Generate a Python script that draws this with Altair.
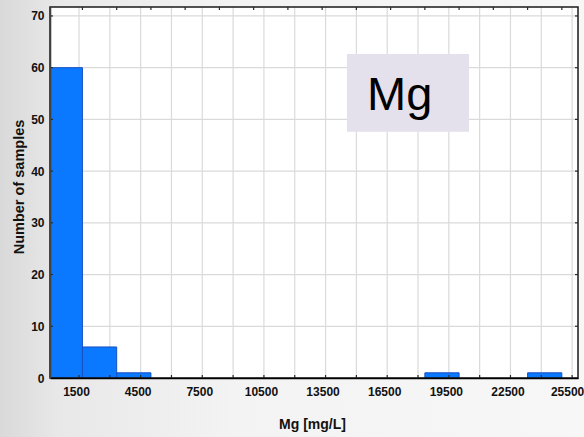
import altair as alt
import pandas as pd

# Histogram of Mg concentrations: bin width 5000/3 mg/L, 15 bins from 0 to 25000
bin_width = 5000 / 3
bin_counts = [60, 6, 1, 0, 0, 0, 0, 0, 0, 0, 0, 1, 0, 0, 1]

# Axis ticks / grid
x_grid = [1500, 3000, 4500, 6000, 7500, 9000, 10500, 12000, 13500,
          15000, 16500, 18000, 19500, 21000, 22500, 24000, 25500]
x_labels = [1500, 4500, 7500, 10500, 13500, 16500, 19500, 22500, 25500]
y_grid = [10, 20, 30, 40, 50, 60, 70]
y_labels = [0, 10, 20, 30, 40, 50, 60, 70]

W, H = 528, 371

bins = pd.DataFrame({
    "lo": [i * bin_width for i in range(len(bin_counts))],
    "hi": [(i + 1) * bin_width for i in range(len(bin_counts))],
    "count": bin_counts,
})
bins = bins[bins["count"] > 0]
edges = pd.DataFrame({"v": [i * bin_width for i in range(1, len(bin_counts) + 1)]})
xg = pd.DataFrame({"v": x_grid})
yg = pd.DataFrame({"v": y_grid})
one = pd.DataFrame({"k": [0]})

xscale = alt.Scale(domain=[88, 25787], nice=False, zero=False)
yscale = alt.Scale(domain=[0, 71.73], nice=False, zero=True)

label_font = "Liberation Sans"
title_font = "Liberation Sans"

xaxis = alt.Axis(
    values=x_labels, format="d", title="Mg [mg/L]", grid=False, ticks=False,
    labelOffset={"condition": {"test": "datum.value >= 25500", "value": -5}, "value": -3},
    labelPadding=8, labelFlush=False, zindex=1,
    domainColor="#000000", domainWidth=1.5,
    titleX=262, titleY=50, titleBaseline="alphabetic", titleAlign="center")
yaxis = alt.Axis(
    values=y_labels, format="d", title="Number of samples", grid=False, ticks=False,
    labelPadding=6, labelBaseline="middle", zindex=1,
    domainColor="#404040", domainWidth=1.6,
    titleAngle=270, titleX=-27, titleY=179.5, titleAlign="center",
    titleBaseline="alphabetic", titleFontSize=14.5)

# page background with a soft horizontal shade
bg = alt.Chart(one).mark_rect(
    color=alt.LinearGradient(
        gradient="linear", x1=0, x2=1, y1=0, y2=0,
        stops=[alt.GradientStop(offset=0, color="#d9d9d9"),
               alt.GradientStop(offset=0.1, color="#e8e8e8"),
               alt.GradientStop(offset=0.4, color="#f3f3f3"),
               alt.GradientStop(offset=1, color="#f7f7f7")]),
).encode(x=alt.value(-50), x2=alt.value(534), y=alt.value(-7), y2=alt.value(430))

plot_bg = alt.Chart(one).mark_rect(color="white").encode(
    x=alt.value(0), x2=alt.value(W), y=alt.value(0), y2=alt.value(H))

grid_x = alt.Chart(xg).mark_rule(color="#dadada", strokeWidth=1.2).encode(
    x=alt.X("v:Q", scale=xscale, axis=xaxis), y=alt.value(0), y2=alt.value(H))
grid_y = alt.Chart(yg).mark_rule(color="#dadada", strokeWidth=1.2).encode(
    y=alt.Y("v:Q", scale=yscale, axis=yaxis), x=alt.value(0), x2=alt.value(W))

bars = alt.Chart(bins).mark_bar(
    color="#0a78ff", stroke="#1650c4", strokeWidth=1, clip=True
).encode(
    x=alt.X("lo:Q", scale=xscale, axis=xaxis),
    x2="hi:Q",
    y=alt.Y("count:Q", scale=yscale, axis=yaxis),
    y2=alt.datum(0),
)

frame = alt.Chart(one).mark_rect(
    fillOpacity=0, stroke="#1a1a1a", strokeWidth=1.5
).encode(x=alt.value(0), x2=alt.value(W), y=alt.value(0), y2=alt.value(H))

tick_color = "#2a2a2a"
ticks_bottom = alt.Chart(xg).mark_rule(color=tick_color, strokeWidth=1.2).encode(
    x=alt.X("v:Q", scale=xscale, axis=xaxis), y=alt.value(H - 3), y2=alt.value(H))
ticks_top = alt.Chart(edges).mark_rule(color=tick_color, strokeWidth=1.2).encode(
    x=alt.X("v:Q", scale=xscale, axis=xaxis), y=alt.value(0), y2=alt.value(3))
ticks_left = alt.Chart(yg).mark_rule(color=tick_color, strokeWidth=1.2).encode(
    y=alt.Y("v:Q", scale=yscale, axis=yaxis), x=alt.value(0), x2=alt.value(3))
ticks_right = alt.Chart(yg).mark_rule(color=tick_color, strokeWidth=1.2).encode(
    y=alt.Y("v:Q", scale=yscale, axis=yaxis), x=alt.value(W - 3), x2=alt.value(W))

# element tag in the upper right
tag_box = alt.Chart(one).mark_rect(color="#e4e0ec").encode(
    x=alt.value(297), x2=alt.value(419), y=alt.value(47), y2=alt.value(124.7))
tag_text = alt.Chart(one).mark_text(
    text="Mg", font=title_font, fontSize=47, color="#000000",
    align="left", baseline="alphabetic"
).encode(x=alt.value(317), y=alt.value(103))

chart = alt.layer(
    bg, plot_bg, grid_x, grid_y, bars, frame,
    ticks_bottom, ticks_top, ticks_left, ticks_right, tag_box, tag_text,
).properties(
    width=W, height=H,
    autosize=alt.AutoSizeParams(type="none"),
    padding={"left": 50, "top": 7, "right": 6, "bottom": 59},
    background="#f4f4f4",
).configure_view(strokeWidth=0).configure_axis(
    labelFont=label_font, labelFontWeight="bold", labelFontSize=12,
    labelColor="#111111",
    titleFont=title_font, titleFontWeight="bold", titleFontSize=14,
    titleColor="#111111",
)

chart.save("out.html", embed_options={"renderer": "svg", "actions": False})
